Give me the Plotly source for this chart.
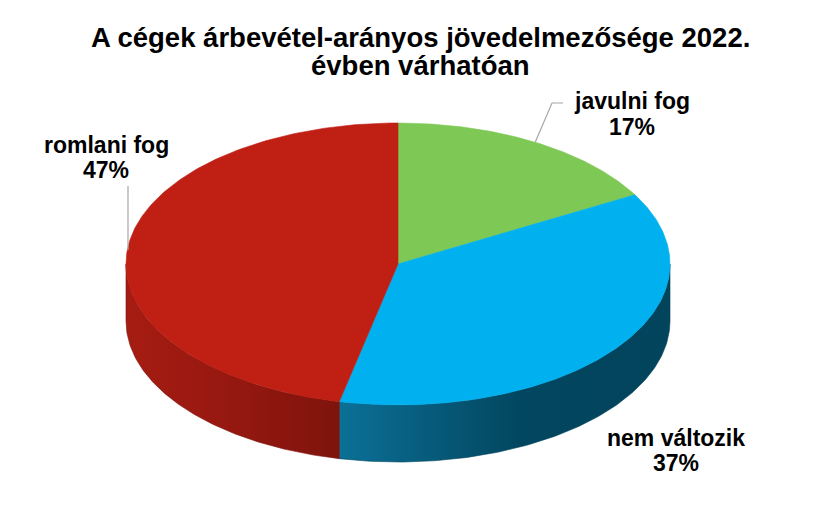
import numpy as np
import plotly.graph_objects as go

# ---- data ----
categories = ["javulni fog", "nem változik", "romlani fog"]
values = [17, 37, 47]
percent_labels = ["17%", "37%", "47%"]
title_lines = ["A cégek árbevétel-arányos jövedelmezősége 2022.", "évben várhatóan"]

# ---- style / layout ----
top_colors = ["#7EC856", "#00B0EF", "#C01F14"]
side_scales = [
    [[0, "#4f8a30"], [1, "#3e7025"]],
    [[0, "#0B7097"], [0.55, "#02465F"], [1, "#02445C"]],
    [[0, "#A61C12"], [0.5, "#951810"], [1, "#7E140D"]],
]
W, H = 839, 507
CX, CY, RX, RY, DEPTH = 398, 264, 272, 141, 57
# (x, y of line 1, y of line 2) for each label
label_pos = [(632, 101, 127), (676, 438, 463), (106, 145, 170)]
title_pos = (420, [37, 65])
FONT = "Liberation Sans, Arial"


def pt(theta_deg, yoff=0.0):
    t = np.radians(theta_deg)
    return CX + RX * np.sin(t), CY - RY * np.cos(t) + yoff


total = float(sum(values))
bounds = np.concatenate([[0], np.cumsum(values) / total * 360.0])

fig = go.Figure()

# side faces (front half: 90..270 deg, clockwise from top)
for i in range(len(values)):
    a, b = max(bounds[i], 90), min(bounds[i + 1], 270)
    if b <= a:
        continue
    th = np.linspace(a, b, 120)
    xt, yt = pt(th)
    xb, yb = pt(th[::-1], DEPTH)
    xs = np.concatenate([xt, xb, [xt[0]]])
    ys = np.concatenate([yt, yb, [yt[0]]])
    fig.add_trace(go.Scatter(
        x=xs, y=ys, mode="lines", fill="toself",
        line=dict(width=0.6, color=side_scales[i][-1][1]),
        fillgradient=dict(type="horizontal", colorscale=side_scales[i]),
        hoverinfo="skip", showlegend=False))

# top faces
for i in range(len(values)):
    th = np.linspace(bounds[i], bounds[i + 1], 200)
    xa, ya = pt(th)
    xs = np.concatenate([[CX], xa, [CX]])
    ys = np.concatenate([[CY], ya, [CY]])
    fig.add_trace(go.Scatter(
        x=xs, y=ys, mode="lines", fill="toself", fillcolor=top_colors[i],
        line=dict(width=0.6, color=top_colors[i]),
        name=categories[i], hoverinfo="name", showlegend=False))

# labels
for i in range(len(values)):
    lx, ly1, ly2 = label_pos[i]
    for txt, ly in ((categories[i], ly1), (percent_labels[i], ly2)):
        fig.add_annotation(x=lx, y=ly, xref="x", yref="y", yanchor="middle",
                           text=f"<b>{txt}</b>", showarrow=False,
                           font=dict(family=FONT, size=23, color="#000000"))

# title
for txt, ty in zip(title_lines, title_pos[1]):
    fig.add_annotation(x=title_pos[0], y=ty, xref="x", yref="y", yanchor="middle",
                       text=f"<b>{txt}</b>", showarrow=False,
                       font=dict(family=FONT, size=27.5, color="#000000"))

# leader lines
gx, gy = pt(bounds[1] * 0.5)
fig.add_shape(type="path", xref="x", yref="y",
              path=f"M {gx:.1f},{gy:.1f} L 552,103 L 563,103",
              line=dict(color="#A6A6A6", width=1.2))
fig.add_shape(type="line", xref="x", yref="y", x0=128, y0=186, x1=128, y1=250,
              line=dict(color="#A6A6A6", width=1.2))

fig.update_layout(
    width=W, height=H,
    margin=dict(l=0, r=0, t=0, b=0),
    paper_bgcolor="white", plot_bgcolor="white",
    xaxis=dict(range=[0, W], visible=False, fixedrange=True),
    yaxis=dict(range=[H, 0], visible=False, fixedrange=True),
)

fig.write_html("out.html", config={"displayModeBar": False},
               post_script="document.body.style.margin='0';document.body.style.overflow='hidden';")
